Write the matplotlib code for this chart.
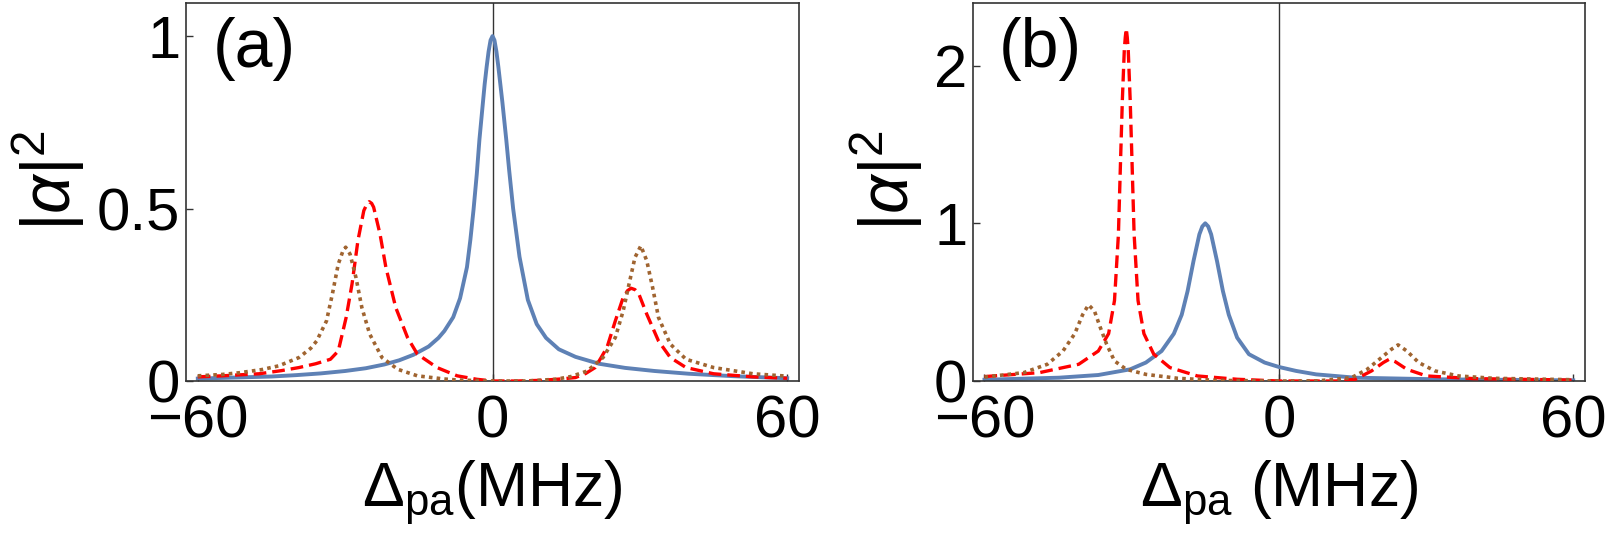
import matplotlib
matplotlib.use('Agg')
import matplotlib.pyplot as plt

plt.rcParams['font.family'] = ['Liberation Sans', 'DejaVu Sans']
plt.rcParams['mathtext.fontset'] = 'custom'
plt.rcParams['mathtext.rm'] = 'Liberation Sans'
plt.rcParams['mathtext.it'] = 'Liberation Sans:italic'

# ---- panel (a) ----
a_blue_x = [-60, -50, -45, -40, -35, -30, -25.8, -22, -19, -16.1, -13, -11, -9.8, -8, -6.6, -5.2,
            -4.5, -3.86, -3.2, -2.66, -2.0, -1.6, -1.2, -0.8, -0.4, 0, 0.4, 0.8, 1.2, 1.6, 2.0,
            2.8, 3.4, 4.2, 5.5, 7.2, 9, 10.9, 13.5, 16.9, 21.7, 27, 33, 40, 49, 60]
a_blue_y = [0.007, 0.011, 0.013, 0.017, 0.022, 0.029, 0.037, 0.048, 0.06, 0.076, 0.10, 0.125,
            0.145, 0.185, 0.24, 0.33, 0.41, 0.497, 0.60, 0.70, 0.80, 0.86, 0.91, 0.955, 0.988, 1.0,
            0.988, 0.955, 0.91, 0.86, 0.81, 0.70, 0.61, 0.50, 0.36, 0.235, 0.165, 0.125, 0.092,
            0.07, 0.05, 0.038, 0.029, 0.021, 0.014, 0.008]

a_red_x = [-60, -55, -50, -47.5, -43, -39.4, -36, -33, -31.4, -29.8, -28.6, -27.4, -26.2, -25.6,
           -25.1, -24.6, -24.2, -22.9, -21.7, -19.7, -17.3, -15.3, -11.3, -7.2, -3.2, 0, 5, 10, 14,
           16.9, 19, 20.9, 22.2, 23.3, 25, 26.6, 27.5, 28.2, 29, 29.8, 31.4, 33.8, 36.2, 39.4, 45,
           53, 60]
a_red_y = [0.012, 0.015, 0.019, 0.021, 0.03, 0.039, 0.05, 0.063, 0.087, 0.184, 0.281, 0.407, 0.494,
           0.512, 0.520, 0.515, 0.504, 0.426, 0.329, 0.213, 0.126, 0.078, 0.039, 0.015, 0.005, 0.0,
           0.0, 0.002, 0.006, 0.01, 0.022, 0.039, 0.07, 0.097, 0.174, 0.242, 0.262, 0.269, 0.265,
           0.252, 0.194, 0.116, 0.068, 0.039, 0.021, 0.012, 0.008]

a_brown_x = [-60, -55, -51.5, -47, -43.5, -39.4, -37, -35.8, -33.8, -32.6, -31.4, -30.5, -29.9, -29,
             -27.8, -26.6, -25, -22.5, -19.3, -15.3, -10, -7.2, 0, 7, 12.9, 16, 19.3, 22.5, 25,
             26.6, 27.8, 29, 30.2, 31.4, 32.6, 33.8, 36.2, 39.4, 45, 53, 60]
a_brown_y = [0.015, 0.019, 0.024, 0.033, 0.044, 0.068, 0.095, 0.116, 0.174, 0.252, 0.339, 0.375,
             0.388, 0.368, 0.30, 0.213, 0.136, 0.068, 0.034, 0.015, 0.006, 0.003, 0.0, 0.0, 0.005,
             0.013, 0.029, 0.068, 0.126, 0.203, 0.281, 0.358, 0.392, 0.349, 0.271, 0.184, 0.107,
             0.063, 0.039, 0.021, 0.014]

# ---- panel (b) ----
b_blue_x = [-60, -44.8, -36.8, -30.3, -27.1, -23.9, -21.4, -19.8, -18.6, -17.4, -16.2, -15.6, -15.0,
            -14.4, -13.8, -12.6, -11.4, -10.2, -8.5, -6.1, -2.9, 0, 3.5, 7.6, 15.6, 31.8, 60]
b_blue_y = [0.008, 0.021, 0.038, 0.074, 0.117, 0.19, 0.30, 0.42, 0.57, 0.76, 0.93, 0.98, 1.0, 0.98,
            0.93, 0.76, 0.57, 0.42, 0.275, 0.17, 0.117, 0.089, 0.064, 0.042, 0.021, 0.011, 0.004]

b_red_x = [-60, -48.8, -40.8, -36.8, -34.7, -33.5, -32.7, -32.3, -31.9, -31.5, -31.3, -31.1, -30.9,
           -30.7, -30.3, -29.9, -29.5, -28.7, -27.5, -25.5, -22.2, -16.6, -8.5, 0, 11.6, 15.6,
           18.9, 21.3, 22.5, 23.7, 26.1, 30.1, 39.8, 60]
b_red_y = [0.028, 0.053, 0.106, 0.19, 0.30, 0.51, 0.93, 1.36, 1.78, 2.10, 2.18, 2.235, 2.18, 2.10,
           1.78, 1.36, 0.93, 0.51, 0.30, 0.17, 0.085, 0.032, 0.011, 0.0, 0.0, 0.011, 0.064, 0.117,
           0.138, 0.123, 0.074, 0.032, 0.015, 0.006]

b_brown_x = [-60, -52, -47.2, -44, -41.6, -40, -38.8, -37.6, -36.4, -35.1, -33.5, -31.1, -27.1,
             -20.6, -12.6, 0, 7.6, 14.8, 18, 20.5, 22.9, 24.3, 26.1, 28.5, 31.8, 36.6, 43.8, 60]
b_brown_y = [0.025, 0.053, 0.106, 0.19, 0.30, 0.42, 0.483, 0.445, 0.34, 0.233, 0.127, 0.074, 0.042,
             0.017, 0.004, 0.0, 0.0, 0.021, 0.074, 0.138, 0.20, 0.229, 0.19, 0.117, 0.064, 0.032,
             0.017, 0.008]

BLUE = '#5E81B5'
RED = '#FF0000'
BROWN = '#A06430'
FS = 43

fig = plt.figure(figsize=(16.07, 5.46), dpi=100)
W, H = 1607., 546.
ax_a = fig.add_axes([186 / W, 1 - 381 / H, 613 / W, 378 / H])
ax_b = fig.add_axes([972.7 / W, 1 - 381 / H, 612.3 / W, 378 / H])

panels = [
    (ax_a, a_blue_x, a_blue_y, a_red_x, a_red_y, a_brown_x, a_brown_y, 1.096, [0, 0.5, 1],
     ['0', '0.5', '1'], '(a)', r'$\Delta_{\rm pa}$(MHz)', -0.162),
    (ax_b, b_blue_x, b_blue_y, b_red_x, b_red_y, b_brown_x, b_brown_y, 2.397, [0, 1, 2],
     ['0', '1', '2'], '(b)', r'$\Delta_{\rm pa}$ (MHz)', -0.078),
]

for ax, bx, by, rx, ry, brx, bry, ytop, yt, ytl, tag, xl, ylx in panels:
    ax.axvline(0, color='#333333', lw=1.0, zorder=1)
    ax.plot(bx, by, color=BLUE, lw=2.8, zorder=2, solid_joinstyle='round')
    ax.plot(rx, ry, color=RED, lw=2.4, dashes=(3.8, 1.8), zorder=3)
    ax.plot(brx, bry, color=BROWN, lw=2.6, dashes=(1.0, 1.15), zorder=4)
    ax.set_xlim(-62.4, 62.4)
    ax.set_ylim(0, ytop)
    ax.set_xticks([-60, 0, 60])
    ax.set_xticklabels(['\u221260', '0', '60'])
    ax.set_yticks(yt)
    ax.set_yticklabels(ytl)
    ax.tick_params(direction='in', length=5, width=1, color='#333333', labelsize=FS,
                   pad=4)
    ax.tick_params(axis='x', pad=10)
    for s in ax.spines.values():
        s.set_color('#333333')
        s.set_linewidth(1.2)
    ax.text(0.043, 0.962, tag, transform=ax.transAxes, fontsize=49, va='top', ha='left')
    ax.set_xlabel(xl, fontsize=45, labelpad=6)
    ax.set_ylabel(r'$|\alpha|^2$', fontsize=49)
    ax.yaxis.set_label_coords(ylx, 0.53)

fig.savefig('out.png', dpi=100)
